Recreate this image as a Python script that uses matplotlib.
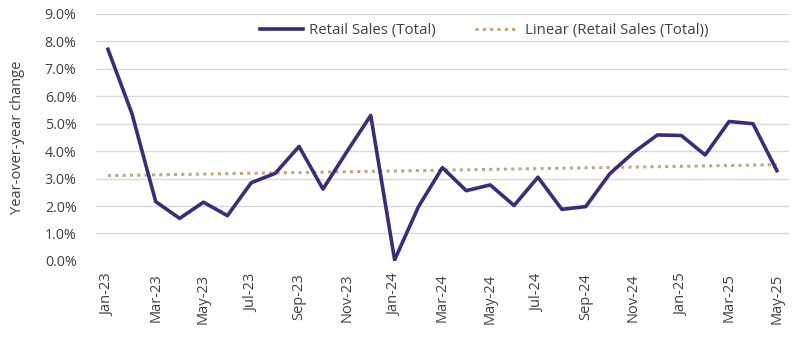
import numpy as np
import matplotlib.pyplot as plt
from matplotlib.ticker import FuncFormatter

plt.rcParams['font.family'] = ['Open Sans', 'DejaVu Sans']

# meses y valores
months = ["Jan-23", "Feb-23", "Mar-23", "Apr-23", "May-23", "Jun-23", "Jul-23", "Aug-23",
          "Sep-23", "Oct-23", "Nov-23", "Dec-23", "Jan-24", "Feb-24", "Mar-24", "Apr-24",
          "May-24", "Jun-24", "Jul-24", "Aug-24", "Sep-24", "Oct-24", "Nov-24", "Dec-24",
          "Jan-25", "Feb-25", "Mar-25", "Apr-25", "May-25"]
retail = [7.71, 5.38, 2.16, 1.55, 2.14, 1.65, 2.85, 3.19,
          4.17, 2.62, 3.98, 5.30, 0.04, 1.98, 3.40, 2.56,
          2.77, 2.02, 3.05, 1.88, 1.98, 3.17, 3.95, 4.59,
          4.57, 3.86, 5.08, 5.00, 3.29]

x = np.arange(len(months))

# tendencia lineal (como la de excel)
coef = np.polyfit(x, retail, 1)
trend = np.polyval(coef, x)

fig = plt.figure(figsize=(8, 3.56), dpi=100)
ax = fig.add_axes([0.12, 0.267, 0.866, 0.694])

ax.plot(x, retail, color="#3a2c78", linewidth=2.6, label="Retail Sales (Total)", zorder=3)
ax.plot(x, trend, color="#c2a57c", linewidth=2.2, linestyle=(0, (1, 1.4)),
        label="Linear (Retail Sales (Total))", zorder=2)

ax.set_xlim(-0.5, len(months) - 0.5)
ax.set_ylim(0, 9)
ax.set_yticks(np.arange(0, 9.5, 1))
ax.yaxis.set_major_formatter(FuncFormatter(lambda v, p: f"{v:.1f}%"))
ax.set_xticks(x[::2])
ax.set_xticklabels(months[::2], rotation=90)

ax.grid(axis="y", color="#d9d9d9", linewidth=1)
ax.set_axisbelow(True)
for s in ax.spines.values():
    s.set_visible(False)
ax.tick_params(length=0, labelsize=10.5, colors="#404040")
ax.tick_params(axis="x", pad=9)
ax.tick_params(axis="y", pad=14, labelsize=10.3)

ax.set_ylabel("Year-over-year change", fontsize=10.5, color="#404040", labelpad=14)

fig.legend(loc="center", bbox_to_anchor=(0.605, 0.913), ncol=2, frameon=False,
           fontsize=10.8, handlelength=2.9, handletextpad=0.4, columnspacing=2.6,
           labelcolor="#404040")

plt.savefig("out.png", dpi=100)
